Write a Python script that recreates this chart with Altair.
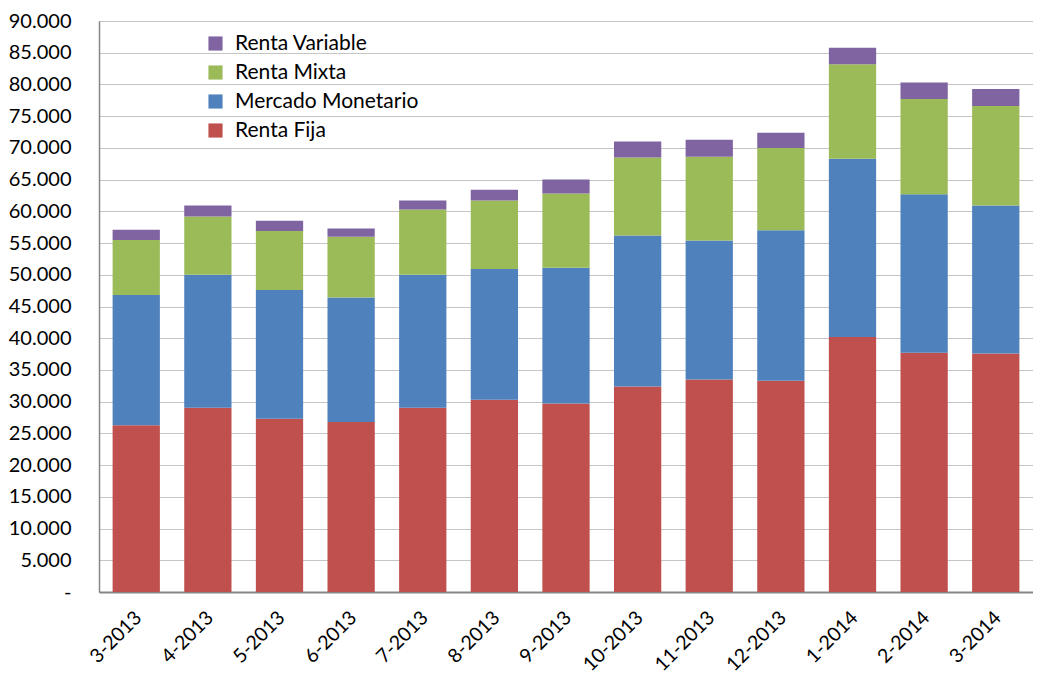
import altair as alt
import pandas as pd

periods = ["3-2013", "4-2013", "5-2013", "6-2013", "7-2013", "8-2013", "9-2013",
           "10-2013", "11-2013", "12-2013", "1-2014", "2-2014", "3-2014"]
renta_fija = [26300, 29050, 27300, 26800, 29050, 30300, 29700, 32400, 33500, 33300, 40200, 37700, 37600]
mercado_monetario = [20500, 20950, 20300, 19600, 20950, 20600, 21400, 23800, 21900, 23700, 28100, 25000, 23300]
renta_mixta = [8700, 9200, 9300, 9600, 10300, 10800, 11700, 12300, 13200, 13000, 14900, 15000, 15700]
renta_variable = [1600, 1700, 1600, 1300, 1400, 1700, 2200, 2500, 2700, 2400, 2600, 2600, 2700]

series_names = ["Renta Variable", "Renta Mixta", "Mercado Monetario", "Renta Fija"]
series_colors = ["#8064A2", "#9BBB59", "#4F81BD", "#C0504D"]
stack_order = {"Renta Fija": 0, "Mercado Monetario": 1, "Renta Mixta": 2, "Renta Variable": 3}
series_values = {
    "Renta Fija": renta_fija,
    "Mercado Monetario": mercado_monetario,
    "Renta Mixta": renta_mixta,
    "Renta Variable": renta_variable,
}

rows = []
for name, vals in series_values.items():
    for p, v in zip(periods, vals):
        rows.append({"period": p, "series": name, "value": v, "ord": stack_order[name]})
df = pd.DataFrame(rows)

FONT = "Lato"

chart = alt.Chart(df).mark_bar().encode(
    x=alt.X("period:N", sort=periods, title=None,
            scale=alt.Scale(paddingInner=0.34, paddingOuter=0.19),
            axis=alt.Axis(labelAngle=-45, labelFontSize=19.5, labelFont=FONT, labelColor="#000000",
                          ticks=False, domainColor="#868686", domainWidth=2, labelPadding=16,
                          labelOffset=-4)),
    y=alt.Y("value:Q", stack="zero", title=None,
            scale=alt.Scale(domain=[0, 90000], nice=False),
            axis=alt.Axis(values=list(range(0, 90001, 5000)),
                          labelExpr="datum.value == 0 ? '-' : replace(format(datum.value, ',.0f'), ',', '.')",
                          labelFontSize=20, labelFont=FONT, labelColor="#000000", labelPadding=28,
                          ticks=False, domainColor="#868686", domainWidth=1.5,
                          grid=True, gridColor="#8a8a8a", gridDash=[1, 1], gridWidth=1)),
    color=alt.Color("series:N",
                    scale=alt.Scale(domain=series_names, range=series_colors),
                    legend=alt.Legend(title=None, orient="none", legendX=106, legendY=12,
                                      symbolType="square", symbolSize=200, symbolStrokeWidth=0,
                                      labelFontSize=21, labelFont=FONT, labelColor="#000000",
                                      labelLimit=0, rowPadding=7, labelOffset=9)),
    order=alt.Order("ord:Q", sort="ascending"),
).properties(
    width=934, height=571,
    padding={"left": 0, "top": 3, "right": 0, "bottom": 2},
).configure_view(stroke=None)

chart.save("out.html", embed_options={"renderer": "svg", "actions": False})
